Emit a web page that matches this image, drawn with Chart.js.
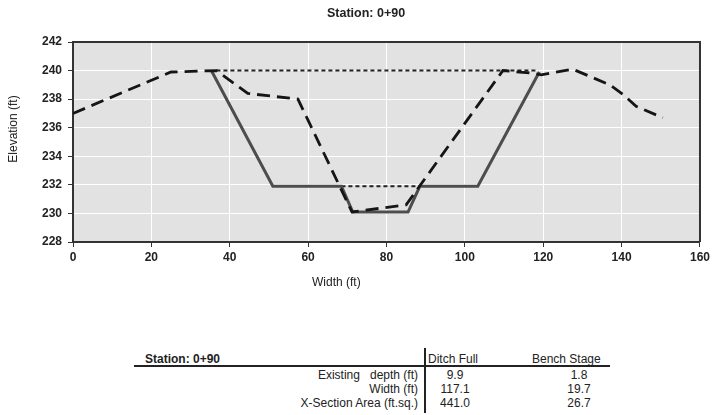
<!DOCTYPE html>
<html>
<head>
<meta charset="utf-8">
<script src="https://cdn.jsdelivr.net/npm/chart.js@4.4.1/dist/chart.umd.min.js"></script>
<style>
  body { margin: 0; background: #fff; font-family: "Liberation Sans", Arial, sans-serif; color: #222; }
  #wrap { position: relative; width: 713px; height: 415px; }
  #plot { position: absolute; left: 0; top: 0; width: 713px; height: 300px; }
  .txt { position: absolute; white-space: nowrap; font-size: 12px; line-height: 14px; }
  .bold { font-weight: bold; }
  .line { position: absolute; background: #222; }
</style>
</head>
<body>
<div id="wrap">
  <div id="plot"><canvas id="xsChart"></canvas></div>
  <div class="txt bold" style="left:327px; top:6px; font-size:12.5px;">Station: 0+90</div>
  <div class="txt" style="left:312px; top:275px;">Width (ft)</div>
  <div class="txt" style="left:-22px; top:122px; transform: rotate(-90deg); width:70px; text-align:center;">Elevation (ft)</div>
  <div id="table"></div>
</div>
<script>
// Existing ground (dashed)
const groundX = [0, 25, 36.6, 44.6, 57.4, 71.2, 85, 109.7, 117.8, 119.5, 127.5, 137, 140.5, 143.7, 150.5];
const groundY = [237, 239.9, 240, 238.4, 238, 230.1, 230.6, 240, 239.8, 239.7, 240.1, 239, 238.3, 237.5, 236.7];

// Ditch section (solid)
const ditchX = [35.3, 51, 68.5, 71.4, 85.5, 88.5, 103.3, 119];
const ditchY = [240, 231.9, 231.9, 230.1, 230.1, 231.9, 231.9, 239.9];

// Water surfaces (dotted)
const fullX = [36.6, 118];
const fullY = [240, 240];
const benchX = [68.5, 88.5];
const benchY = [231.9, 231.9];

// Summary table
const tableStation = 'Station: 0+90';
const tableCols = ['Ditch Full', 'Bench Stage'];
const tableRows = ['Existing   depth (ft)', 'Width (ft)', 'X-Section Area (ft.sq.)'];
const ditchFullVals = ['9.9', '117.1', '441.0'];
const benchStageVals = ['1.8', '19.7', '26.7'];

const toPoints = (xs, ys) => xs.map((x, i) => ({ x: x, y: ys[i] }));

const plotBg = {
  id: 'plotBg',
  beforeDraw(chart) {
    const { ctx, chartArea: a } = chart;
    ctx.save();
    ctx.fillStyle = '#e2e2e2';
    ctx.fillRect(a.left, a.top, a.right - a.left, a.bottom - a.top);
    ctx.restore();
  },
  afterDraw(chart) {
    const { ctx, chartArea: a } = chart;
    ctx.save();
    ctx.strokeStyle = '#333';
    ctx.lineWidth = 2;
    ctx.beginPath();
    ctx.moveTo(a.left, a.top);
    ctx.lineTo(a.right, a.top);
    ctx.lineTo(a.right, a.bottom);
    ctx.stroke();
    ctx.restore();
  }
};

const tickFont = { family: '"Liberation Sans", Arial, sans-serif', size: 12, weight: 'bold' };

new Chart(document.getElementById('xsChart').getContext('2d'), {
  type: 'line',
  data: {
    datasets: [
      {
        label: 'Existing ground',
        data: toPoints(groundX, groundY),
        borderColor: '#151515',
        borderWidth: 2.8,
        borderDash: [13, 7]
      },
      {
        label: 'Ditch',
        data: toPoints(ditchX, ditchY),
        borderColor: '#4d4d4d',
        borderWidth: 3
      },
      {
        label: 'Ditch full',
        data: toPoints(fullX, fullY),
        borderColor: '#222',
        borderWidth: 2,
        borderDash: [4, 3]
      },
      {
        label: 'Bench stage',
        data: toPoints(benchX, benchY),
        borderColor: '#222',
        borderWidth: 2,
        borderDash: [4, 3]
      }
    ]
  },
  options: {
    responsive: true,
    maintainAspectRatio: false,
    animation: false,
    layout: { padding: { top: 42, right: 12, bottom: 0, left: 0 } },
    elements: { point: { radius: 0 }, line: { tension: 0 } },
    plugins: { legend: { display: false }, tooltip: { enabled: false } },
    scales: {
      x: {
        type: 'linear',
        min: 0,
        max: 160,
        ticks: { stepSize: 20, padding: 3, color: '#222', font: tickFont, maxRotation: 0 },
        grid: { color: '#fff', lineWidth: 1, tickLength: 5, tickColor: '#333' },
        border: { color: '#333', width: 2 },
        afterFit: (s) => { s.height = 58; }
      },
      y: {
        min: 228,
        max: 242,
        ticks: { stepSize: 2, padding: 6, color: '#222', font: tickFont },
        grid: { color: '#fff', lineWidth: 1, tickLength: 5, tickColor: '#333' },
        border: { color: '#333', width: 2 },
        afterFit: (s) => { s.width = 73; }
      }
    }
  },
  plugins: [plotBg]
});

// Build the summary table underneath
const table = document.getElementById('table');
function addText(text, css, cls) {
  const d = document.createElement('div');
  d.className = 'txt' + (cls ? ' ' + cls : '');
  d.textContent = text;
  d.style.cssText += css;
  table.appendChild(d);
}
addText(tableStation, 'left:145px; top:352px;', 'bold');
addText(tableCols[0], 'left:428px; top:352px;');
addText(tableCols[1], 'left:532px; top:352px;');
const rowTops = [368, 382, 396];
tableRows.forEach((r, i) => {
  addText(r, 'right:' + (713 - 418) + 'px; top:' + rowTops[i] + 'px; white-space:pre;');
  addText(ditchFullVals[i], 'left:425px; width:60px; text-align:center; top:' + rowTops[i] + 'px;');
  addText(benchStageVals[i], 'left:549px; width:60px; text-align:center; top:' + rowTops[i] + 'px;');
});
const hLine = document.createElement('div');
hLine.className = 'line';
hLine.style.cssText = 'left:134px; top:365px; width:476px; height:1.5px;';
table.appendChild(hLine);
const vLine = document.createElement('div');
vLine.className = 'line';
vLine.style.cssText = 'left:424px; top:348px; width:2px; height:65px;';
table.appendChild(vLine);
</script>
</body>
</html>
